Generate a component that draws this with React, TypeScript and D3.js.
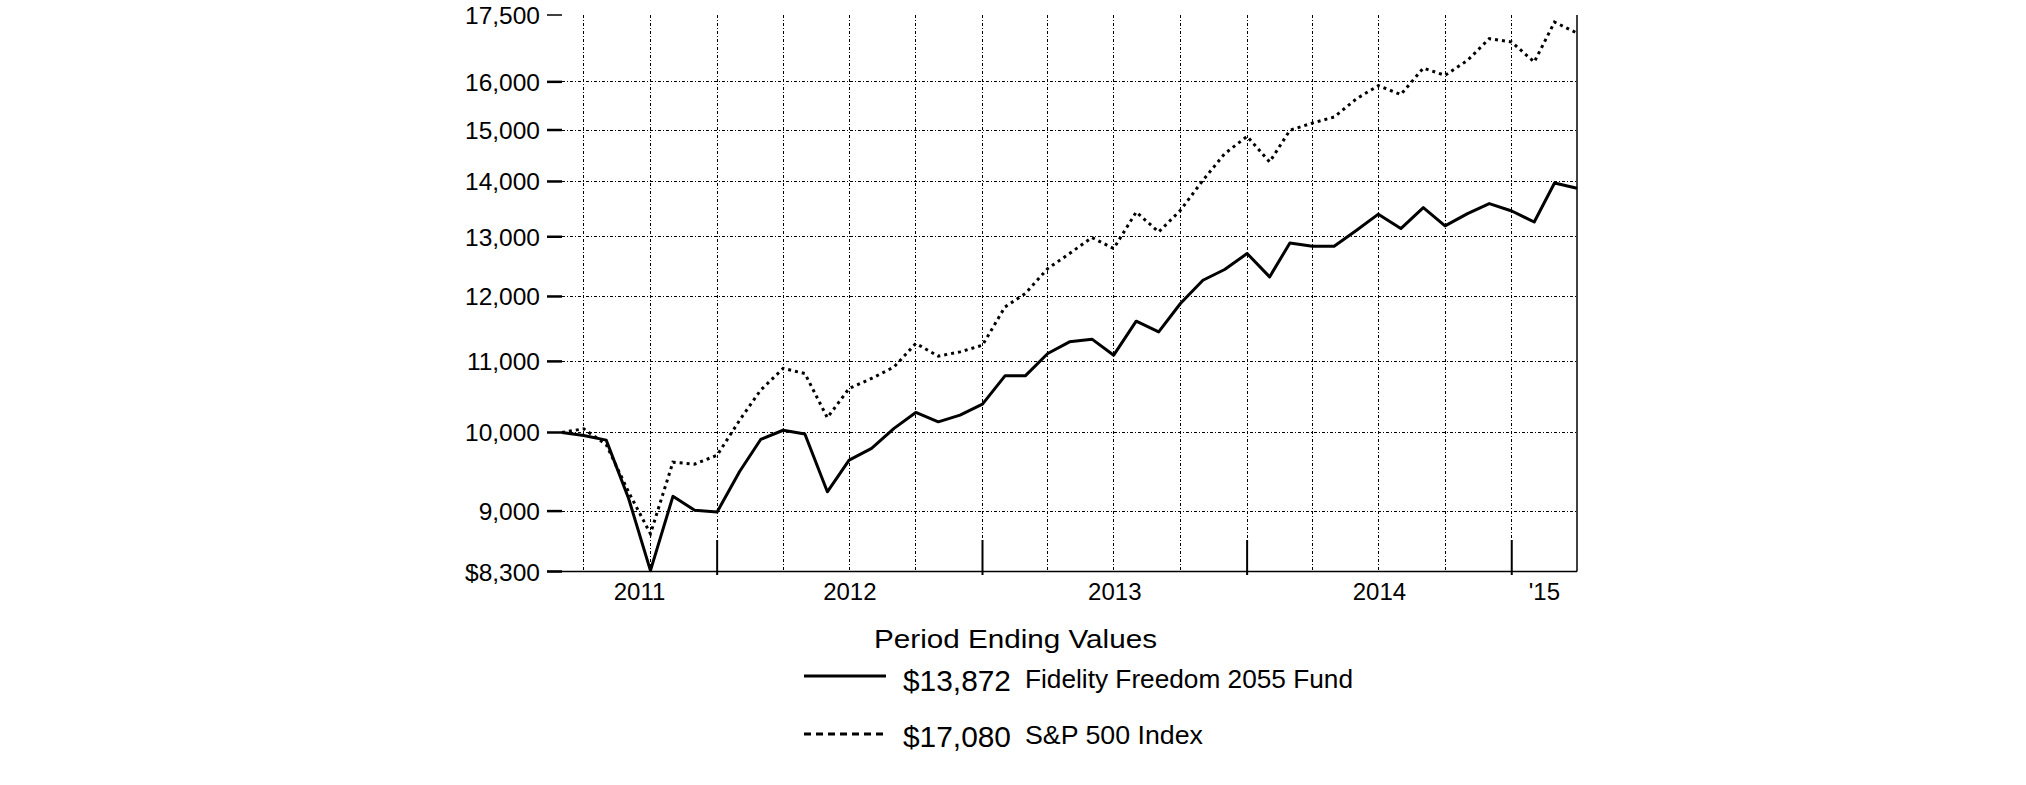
import React from "react";
import * as d3 from "d3";

// month-end observations, May 2011 .. Mar 2015
const monthEnds = d3.range(47).map((i) => new Date(2011, 5 + i, 0));

const fundValues = [
  10000, 9960, 9898, 9150, 8310, 9180, 9010, 8990, 9490, 9907, 10030, 9980,
  9236, 9637, 9789, 10055, 10272, 10144, 10236, 10388, 10789, 10789, 11117,
  11292, 11333, 11092, 11609, 11444, 11887, 12264, 12442, 12711, 12319, 12892,
  12835, 12835, 13114, 13400, 13144, 13518, 13190, 13410, 13591, 13457, 13260,
  13972, 13872,
];

const spValues = [
  10000, 10050, 9840, 9230, 8730, 9610, 9585, 9700, 10166, 10584, 10897, 10823,
  10200, 10608, 10751, 10918, 11268, 11078, 11141, 11242, 11833, 12047, 12458,
  12711, 12986, 12796, 13439, 13084, 13470, 14022, 14531, 14873, 14370, 14994,
  15140, 15263, 15643, 15920, 15729, 16299, 16140, 16468, 16954, 16877, 16430,
  17335, 17080,
];

const yTicks = [8300, 9000, 10000, 11000, 12000, 13000, 14000, 15000, 16000, 17500];
const yTickLabels = ["$8,300", "9,000", "10,000", "11,000", "12,000", "13,000", "14,000", "15,000", "16,000", "17,500"];
const gridValues = [9000, 10000, 11000, 12000, 13000, 14000, 15000, 16000];

const years = [2011, 2012, 2013, 2014, 2015];
const yearLabels = ["2011", "2012", "2013", "2014", "'15"];

const legendTitle = "Period Ending Values";
const seriesNames = ["Fidelity Freedom 2055 Fund", "S&P 500 Index"];
const endingLabels = ["$13,872", "$17,080"];

const FONT = "Liberation Sans, Arial, sans-serif";

export default function App() {
  const W = 2026;
  const H = 785;
  const left = 562;
  const right = 1577;
  const top = 15;
  const bottom = 571.5;

  const x = d3
    .scaleTime()
    .domain([monthEnds[0], monthEnds[monthEnds.length - 1]])
    .range([left, right]);
  const y = d3.scaleLog().domain([8300, 17500]).range([bottom, top]);

  const line = d3
    .line<number>()
    .x((_, i) => x(monthEnds[i]))
    .y((d) => y(d));

  // quarter ends for vertical grid (skip the last point = right border)
  const quarterEnds = monthEnds.filter(
    (d, i) => d.getMonth() % 3 === 2 && i < monthEnds.length - 1
  );
  const yearEnds = monthEnds.filter(
    (d, i) => d.getMonth() === 11 && i < monthEnds.length - 1
  );

  const gridStyle = {
    stroke: "#000",
    strokeWidth: 1,
    strokeDasharray: "3,2,1,2",
    fill: "none",
  };

  // legend rows
  const rowY = [676, 734];

  return (
    <svg
      width={W}
      height={H}
      style={{ position: "absolute", left: 0, top: 0, background: "#fff" }}
      fontFamily={FONT}
    >
      {/* horizontal grid */}
      {gridValues.map((v) => (
        <line key={"h" + v} x1={left} x2={right} y1={y(v)} y2={y(v)} style={gridStyle} shapeRendering="crispEdges" />
      ))}
      {/* vertical grid */}
      {quarterEnds.map((d) => (
        <line key={"v" + d.getTime()} x1={x(d)} x2={x(d)} y1={top} y2={bottom} style={gridStyle} shapeRendering="crispEdges" />
      ))}

      {/* axis frame */}
      <line x1={547} x2={right} y1={bottom} y2={bottom} stroke="#000" strokeWidth={1.5} />
      <line x1={right} x2={right} y1={top} y2={bottom} stroke="#000" strokeWidth={1.5} />

      {/* y ticks + labels */}
      {yTicks.map((v, i) => (
        <g key={"yt" + v}>
          <line x1={547} x2={left} y1={y(v)} y2={y(v)} stroke="#000" strokeWidth={i === yTicks.length - 1 ? 1.5 : 2.5} />
          <text x={540} y={y(v) + 9} textAnchor="end" fontSize={24.5} fill="#000">
            {yTickLabels[i]}
          </text>
        </g>
      ))}

      {/* year ticks */}
      {yearEnds.map((d) => (
        <line key={"ye" + d.getTime()} x1={x(d)} x2={x(d)} y1={540} y2={575} stroke="#000" strokeWidth={2} />
      ))}
      {years.map((yr, i) => {
        const a = Math.max(x(new Date(yr - 1, 11, 31)), left);
        const b = Math.min(x(new Date(yr, 11, 31)), right);
        return (
          <text key={"yl" + yr} x={(a + b) / 2} y={600} textAnchor="middle" fontSize={24} fill="#000">
            {yearLabels[i]}
          </text>
        );
      })}

      {/* series */}
      <path d={line(spValues) || ""} fill="none" stroke="#000" strokeWidth={3} strokeDasharray="3,4" />
      <path d={line(fundValues) || ""} fill="none" stroke="#000" strokeWidth={3} strokeLinejoin="round" />

      {/* legend */}
      <text x={874} y={648} fontSize={26} textLength={283} lengthAdjust="spacingAndGlyphs" fill="#000">
        {legendTitle}
      </text>
      <line x1={804} x2={886} y1={rowY[0]} y2={rowY[0]} stroke="#000" strokeWidth={3} />
      <text x={903} y={rowY[0] + 15} fontSize={30} textLength={108} lengthAdjust="spacingAndGlyphs" fill="#000">
        {endingLabels[0]}
      </text>
      <text x={1025} y={rowY[0] + 12} fontSize={26} textLength={328} lengthAdjust="spacingAndGlyphs" fill="#000">
        {seriesNames[0]}
      </text>
      <line x1={804} x2={886} y1={rowY[1]} y2={rowY[1]} stroke="#000" strokeWidth={3} strokeDasharray="7,5" />
      <text x={903} y={rowY[1] + 13} fontSize={30} textLength={108} lengthAdjust="spacingAndGlyphs" fill="#000">
        {endingLabels[1]}
      </text>
      <text x={1025} y={rowY[1] + 10} fontSize={26} textLength={178} lengthAdjust="spacingAndGlyphs" fill="#000">
        {seriesNames[1]}
      </text>
    </svg>
  );
}
